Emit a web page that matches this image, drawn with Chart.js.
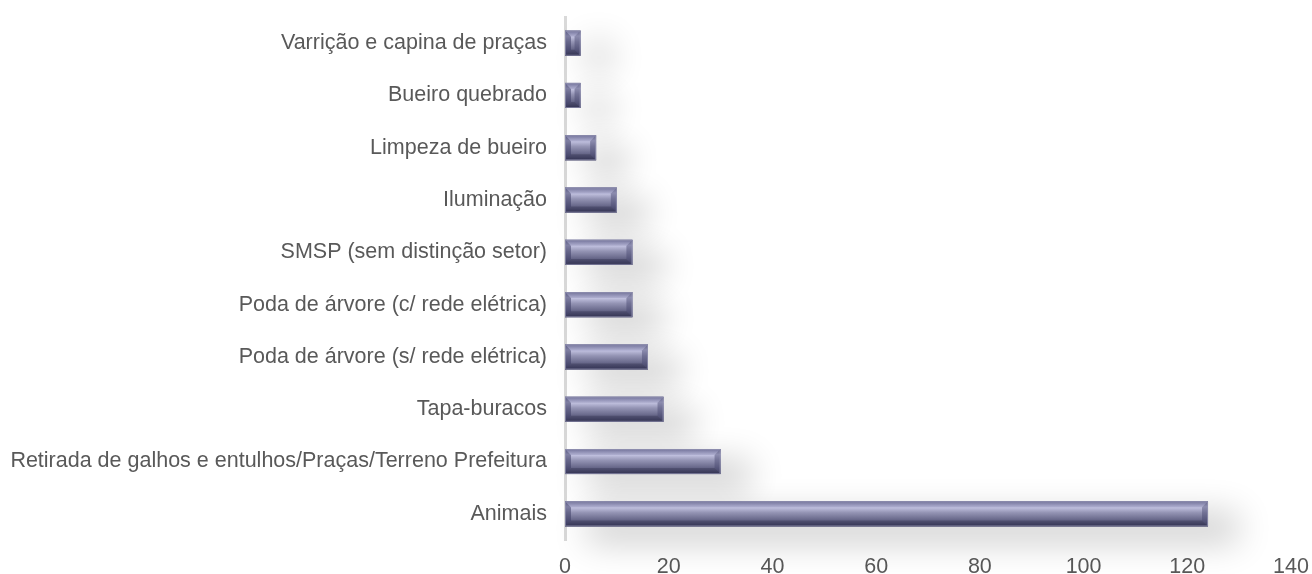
<!DOCTYPE html>
<html>
<head>
<meta charset="utf-8">
<script src="https://cdn.jsdelivr.net/npm/chart.js@4/dist/chart.umd.min.js"></script>
<style>
  html, body { margin: 0; padding: 0; background: #ffffff; }
  #wrap { width: 1312px; height: 574px; }
</style>
</head>
<body>
<div id="wrap"><canvas id="c" width="1312" height="574"></canvas></div>
<script>
const categories = [
  'Varrição e capina de praças',
  'Bueiro quebrado',
  'Limpeza de bueiro',
  'Iluminação',
  'SMSP (sem distinção setor)',
  'Poda de árvore (c/ rede elétrica)',
  'Poda de árvore (s/ rede elétrica)',
  'Tapa-buracos',
  'Retirada de galhos e entulhos/Praças/Terreno Prefeitura',
  'Animais'
];
const values = [3, 3, 6, 10, 13, 13, 16, 19, 30, 124];
const xTicks = [0, 20, 40, 60, 80, 100, 120, 140];

const FONT = "'Liberation Sans', Arial, sans-serif";
const TEXT = '#595959';

// Soft drop shadow under the bars
const shadowPlugin = {
  id: 'barShadow',
  beforeDatasetsDraw(chart) {
    const ctx = chart.ctx;
    const meta = chart.getDatasetMeta(0);
    meta.data.forEach(bar => {
      const x0 = bar.base, x1 = bar.x;
      const h = bar.height;
      const y0 = bar.y - h / 2;
      ctx.save();
      ctx.shadowColor = 'rgba(0,0,0,0.19)';
      ctx.shadowBlur = 34;
      ctx.shadowOffsetX = 2000 + 22;
      ctx.shadowOffsetY = 14;
      ctx.fillStyle = '#000';
      ctx.fillRect(x0 - 2000, y0 - 3, x1 - x0 + 8, h + 6);
      ctx.restore();
    });
  }
};

// Bevelled look on each bar
const bevelPlugin = {
  id: 'bevel',
  afterDatasetsDraw(chart) {
    const ctx = chart.ctx;
    const meta = chart.getDatasetMeta(0);
    meta.data.forEach(bar => {
      const x0 = bar.base, x1 = bar.x;
      const h = bar.height;
      const y0 = bar.y - h / 2, y1 = bar.y + h / 2;
      const w = x1 - x0;
      const b = Math.min(6, w / 2.2, h / 3);
      ctx.save();
      // main face
      const g = ctx.createLinearGradient(0, y0, 0, y1);
      g.addColorStop(0, '#7a7aa0');
      g.addColorStop(0.22, '#c6c6e4');
      g.addColorStop(0.45, '#9494b4');
      g.addColorStop(0.72, '#6a6a8c');
      g.addColorStop(1, '#383858');
      ctx.fillStyle = g;
      ctx.fillRect(x0, y0, w, h);
      // top facet
      ctx.beginPath();
      ctx.moveTo(x0, y0); ctx.lineTo(x1, y0); ctx.lineTo(x1 - b, y0 + b); ctx.lineTo(x0 + b, y0 + b); ctx.closePath();
      ctx.fillStyle = 'rgba(90,90,135,0.25)';
      ctx.fill();
      // bottom facet
      ctx.beginPath();
      ctx.moveTo(x0, y1); ctx.lineTo(x1, y1); ctx.lineTo(x1 - b, y1 - b); ctx.lineTo(x0 + b, y1 - b); ctx.closePath();
      ctx.fillStyle = 'rgba(40,40,70,0.3)';
      ctx.fill();
      // left facet
      ctx.beginPath();
      ctx.moveTo(x0, y0); ctx.lineTo(x0 + b, y0 + b); ctx.lineTo(x0 + b, y1 - b); ctx.lineTo(x0, y1); ctx.closePath();
      ctx.fillStyle = 'rgba(55,55,95,0.5)';
      ctx.fill();
      // right facet
      ctx.beginPath();
      ctx.moveTo(x1, y0); ctx.lineTo(x1 - b, y0 + b); ctx.lineTo(x1 - b, y1 - b); ctx.lineTo(x1, y1); ctx.closePath();
      ctx.fillStyle = 'rgba(70,70,110,0.45)';
      ctx.fill();
      // outline
      ctx.strokeStyle = 'rgba(150,150,180,0.7)';
      ctx.lineWidth = 1;
      ctx.strokeRect(x0 + 0.5, y0 + 0.5, w - 1, h - 1);
      ctx.restore();
    });
  }
};

new Chart(document.getElementById('c'), {
  type: 'bar',
  data: {
    labels: categories,
    datasets: [{
      data: values,
      backgroundColor: '#6e6e92',
      borderWidth: 0,
      barPercentage: 0.48,
      categoryPercentage: 1.0
    }]
  },
  plugins: [shadowPlugin, bevelPlugin],
  options: {
    indexAxis: 'y',
    responsive: false,
    animation: false,
    events: [],
    layout: { padding: { top: 17, right: 21, bottom: 0, left: 0 } },
    plugins: { legend: { display: false }, tooltip: { enabled: false } },
    scales: {
      x: {
        min: 0, max: 140,
        afterBuildTicks(scale) { scale.ticks = xTicks.map(v => ({ value: v })); },
        grid: { display: false, drawTicks: false },
        border: { display: false },
        ticks: { color: TEXT, font: { family: FONT, size: 21.5 }, padding: 14, maxRotation: 0 },
        afterFit(scale) { scale.height = 34; scale.paddingLeft = 0; scale.paddingRight = 0; }
      },
      y: {
        grid: { display: false, drawTicks: false },
        border: { display: true, color: '#d9d9d9', width: 3 },
        ticks: { color: TEXT, font: { family: FONT, size: 21.5 }, padding: 18 },
        afterFit(scale) { scale.width = 565; scale.paddingTop = 0; scale.paddingBottom = 0; }
      }
    }
  }
});
</script>
</body>
</html>
